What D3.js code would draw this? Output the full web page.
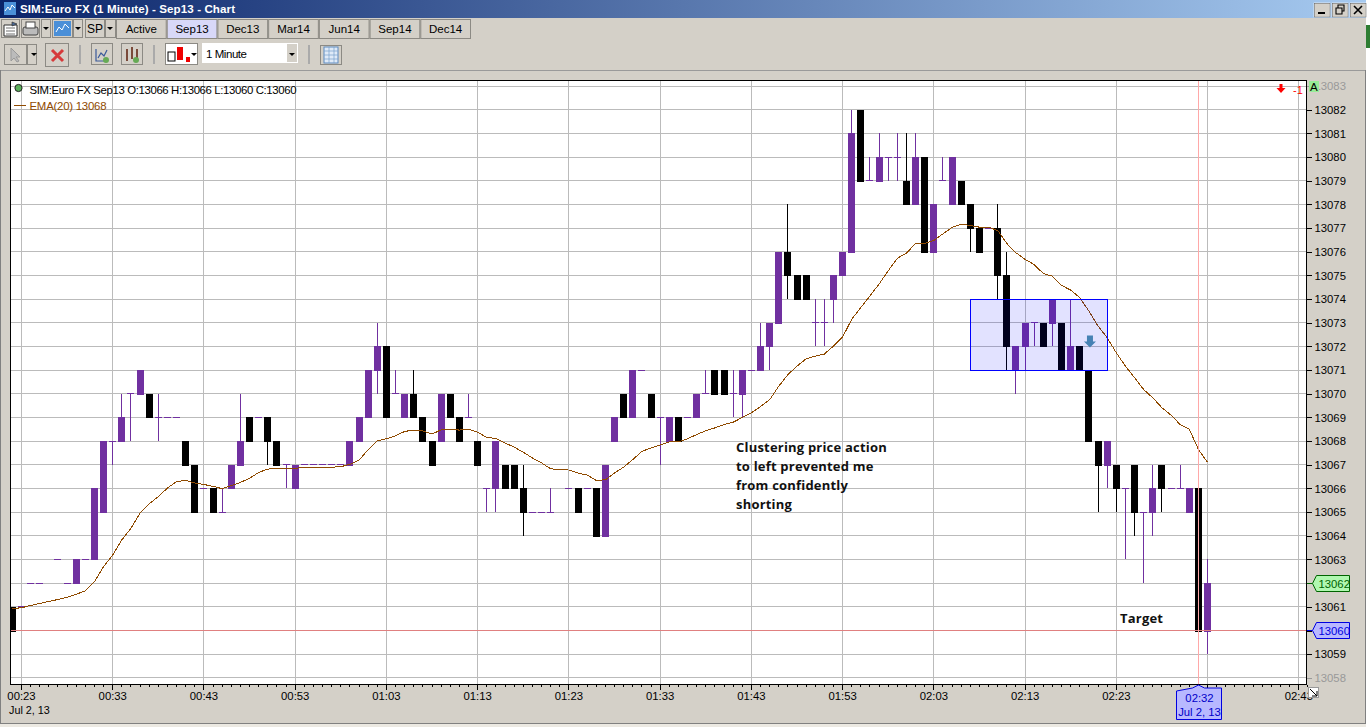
<!DOCTYPE html>
<html><head><meta charset="utf-8">
<style>
html,body{margin:0;padding:0;background:#fff;overflow:hidden}
svg{display:block}
text{font-family:"Liberation Sans",Arial,sans-serif;font-size:11.5px;fill:#000}
.ann{font-family:"Open Sans",sans-serif;font-weight:700;font-size:13px;letter-spacing:.2px;fill:#111}
</style>
<script src="https://cdn.jsdelivr.net/npm/d3@7"></script>
</head><body><div id="c"></div>
<script>
// minutes after midnight, 22 = 00:22
const barMinutes=[22,23,24,25,27,28,29,30,31,32,33,34,35,36,37,38,39,40,41,42,43,44,45,46,47,48,49,50,51,52,53,54,55,56,57,58,59,60,61,62,63,64,65,66,67,68,69,70,71,72,73,74,75,76,77,78,79,80,81,83,84,85,86,87,88,89,90,91,92,93,94,95,96,97,98,99,100,101,102,103,104,105,106,107,108,109,110,111,112,113,114,115,116,117,118,119,120,121,122,123,124,125,126,127,128,129,130,131,132,133,134,135,136,137,138,139,140,141,142,143,144,145,146,147,148,149,150,151,152,153];
const opens=[13061,13061,13062,13062,13063,13062,13062,13063,13063,13065,13068,13068,13070,13070,13070,13069,13069,13069,13068,13067,13066,13066,13065,13066,13067,13069,13069,13069,13068,13067,13066,13067,13067,13067,13067,13067,13067,13068,13069,13071,13072,13070,13069,13070,13069,13068,13068,13070,13069,13069,13068,13066,13066,13067,13067,13066,13065,13065,13065,13066,13066,13066,13066,13064,13068,13070,13069,13071,13070,13069,13068,13069,13069,13069,13070,13071,13071,13070,13070,13071,13071,13072,13073,13076,13075,13075,13073,13073,13074,13075,13076,13082,13079,13079,13080,13080,13079,13078,13080,13076,13079,13078,13079,13078,13077,13077,13077,13075,13071,13072,13073,13073,13073,13073,13071,13072,13071,13068,13067,13067,13066,13067,13065,13065,13067,13066,13066,13065,13066,13060];
const highs=[13061,13061,13062,13062,13063,13062,13063,13063,13066,13068,13068,13070,13070,13071,13070,13070,13069,13069,13068,13067,13066,13066,13066,13067,13070,13069,13069,13069,13068,13067,13067,13067,13067,13067,13067,13067,13068,13069,13071,13073,13072,13071,13070,13071,13069,13068,13070,13070,13069,13070,13068,13066,13068,13067,13067,13067,13065,13065,13066,13066,13066,13066,13066,13067,13069,13070,13071,13071,13070,13069,13069,13069,13069,13070,13071,13071,13071,13071,13071,13071,13073,13073,13076,13078,13075,13075,13074,13074,13075,13076,13082,13082,13080,13081,13080,13081,13081,13081,13080,13078,13080,13080,13079,13078,13077,13077,13078,13076,13072,13073,13073,13073,13074,13073,13074,13072,13071,13068,13068,13067,13066,13067,13065,13067,13067,13066,13067,13066,13066,13063];
const lows=[13060,13061,13062,13062,13063,13062,13062,13063,13063,13065,13067,13068,13068,13070,13069,13068,13069,13069,13067,13065,13066,13065,13065,13066,13067,13068,13069,13067,13067,13066,13066,13067,13067,13067,13067,13067,13067,13068,13069,13070,13069,13070,13069,13069,13068,13067,13068,13069,13068,13069,13067,13065,13065,13066,13066,13064,13065,13065,13065,13066,13065,13066,13064,13064,13068,13069,13069,13071,13069,13067,13068,13068,13069,13069,13070,13070,13070,13069,13069,13071,13071,13071,13073,13074,13074,13074,13072,13072,13073,13075,13076,13079,13079,13079,13079,13079,13078,13078,13076,13076,13079,13078,13078,13076,13076,13077,13074,13071,13070,13071,13072,13072,13072,13071,13071,13071,13068,13065,13066,13065,13063,13064,13062,13064,13065,13066,13066,13065,13060,13059];
const closes=[13060,13061,13062,13062,13063,13062,13063,13063,13066,13068,13068,13069,13070,13071,13069,13069,13069,13069,13067,13065,13066,13065,13065,13067,13068,13068,13069,13068,13067,13067,13067,13067,13067,13067,13067,13067,13068,13069,13071,13072,13069,13070,13070,13069,13068,13067,13070,13069,13068,13069,13067,13066,13068,13066,13066,13065,13065,13065,13065,13066,13065,13066,13064,13067,13069,13069,13071,13071,13069,13069,13069,13068,13069,13070,13070,13070,13070,13070,13071,13071,13072,13073,13076,13075,13074,13074,13073,13073,13075,13076,13081,13079,13079,13080,13080,13080,13078,13080,13076,13078,13079,13080,13078,13077,13076,13077,13075,13072,13072,13073,13073,13072,13074,13071,13072,13071,13068,13067,13068,13066,13066,13065,13065,13066,13066,13066,13066,13066,13060,13062];
// EMA(20), one value per minute from 00:22
const emaStart=22;
const emaValues=[13060.93,13060.96,13061.06,13061.14,13061.23,13061.31,13061.4,13061.53,13061.68,13062.06,13062.7,13063.19,13063.83,13064.32,13064.96,13065.35,13065.66,13066.02,13066.29,13066.34,13066.23,13066.17,13066.09,13065.99,13066.12,13066.26,13066.43,13066.68,13066.82,13066.84,13066.85,13066.86,13066.88,13066.89,13066.89,13066.9,13066.92,13067.02,13067.2,13067.64,13068.02,13068.1,13068.23,13068.41,13068.47,13068.43,13068.3,13068.48,13068.48,13068.47,13068.51,13068.38,13068.15,13068.12,13067.92,13067.75,13067.53,13067.29,13067.08,13066.83,13066.8,13066.78,13066.65,13066.57,13066.34,13066.37,13066.66,13066.9,13067.22,13067.57,13067.71,13067.84,13067.97,13067.97,13068.1,13068.28,13068.44,13068.56,13068.7,13068.8,13069.0,13069.2,13069.46,13069.75,13070.32,13070.81,13071.17,13071.48,13071.59,13071.68,13072.02,13072.4,13073.15,13073.65,13074.14,13074.64,13075.2,13075.73,13075.95,13076.35,13076.35,13076.48,13076.76,13077.03,13077.17,13077.11,13077.04,13077.04,13076.9,13076.35,13075.96,13075.68,13075.46,13075.08,13074.97,13074.58,13074.38,13074.06,13073.49,13072.86,13072.37,13071.73,13071.17,13070.68,13070.18,13069.83,13069.41,13069.1,13068.7,13068.5,13067.65,13067.1];
const priceTicks=[13083,13082,13081,13080,13079,13078,13077,13076,13075,13074,13073,13072,13071,13070,13069,13068,13067,13066,13065,13064,13063,13062,13061,13060,13059,13058];
const timeTicks=[23,33,43,53,63,73,83,93,103,113,123,133,143,153,163];
const timeLabels=["00:23","00:33","00:43","00:53","01:03","01:13","01:23","01:33","01:43","01:53","02:03","02:13","02:23","","02:43"];
const tabs=["Active","Sep13","Dec13","Mar14","Jun14","Sep14","Dec14"];
const notes=["Clustering price action","to left prevented me","from confidently","shorting"];
const lastClose=13060, trigger=13062, cursorMinute=152;
const zone={t0:127,t1:142,p0:13071,p1:13074}, signalMinute=140;

const W=1370,H=727,L=10.5,R=1306.5,T=80.5,B=684.5;
const x=d3.scaleLinear().domain([23,163]).range([21.5,1298.8]);
const y=d3.scaleLinear().domain([13060,13082]).range([630.5,109.8]);
const svg=d3.select("#c").append("svg").attr("width",W).attr("height",H);
const GR="#d4d0c8",GRID="#bbbbbb",PUR="#7030a0",EMA="#8f4a00";
const px=v=>Math.round(v-.5)+.5;

// window
svg.append("rect").attr("width",W).attr("height",H).attr("fill",GR);
const defs=svg.append("defs");
const lg=defs.append("linearGradient").attr("id","tb");
lg.append("stop").attr("offset",0).attr("stop-color","#0a246a");
lg.append("stop").attr("offset",1).attr("stop-color","#a6caf0");
defs.append("clipPath").attr("id","pc").append("rect").attr("x",L).attr("y",T).attr("width",R-L).attr("height",B-T);
svg.append("rect").attr("width",1366).attr("height",18).attr("fill","url(#tb)");
svg.append("rect").attr("x",1366).attr("width",4).attr("height",H).attr("fill","#fff");
svg.append("rect").attr("x",1366).attr("y",25).attr("width",4).attr("height",23).attr("fill","#2e7d32");
svg.append("rect").attr("x",1365).attr("y",70).attr("width",1).attr("height",653).attr("fill","#808080");
svg.append("rect").attr("x",0).attr("y",70).attr("width",1365).attr("height",1).attr("fill","#9a9a9a");
svg.append("rect").attr("x",0).attr("y",70).attr("width",1).attr("height",654).attr("fill","#808080");
svg.append("rect").attr("x",0).attr("y",723).attr("width",1366).attr("height",1).attr("fill","#808080");
svg.append("rect").attr("x",0).attr("y",724).attr("width",1366).attr("height",3).attr("fill","#ece9e2");
svg.append("text").attr("x",20).attr("y",13).style("fill","#fff").style("font-weight",700).style("font-size","11.6px").attr("textLength",215).text("SIM:Euro FX (1 Minute) - Sep13 - Chart");
// title icon
svg.append("rect").attr("x",4).attr("y",2).attr("width",12).attr("height",13).attr("fill","#4a90d8");
svg.append("path").attr("d","M5 11l3-4 2 3 2-5 3 3").attr("fill","none").attr("stroke","#fff");

function btn(x0,y0,w,h,fill){
  const g=svg.append("g");
  g.append("rect").attr("x",x0+.5).attr("y",y0+.5).attr("width",w-1).attr("height",h-1).attr("fill",fill||GR).attr("stroke","#8c8a84");
  return g;
}
// window buttons
[[1314,"min"],[1332,"max"],[1350,"x"]].forEach(([bx,k])=>{
  const g=svg.append("g");
  g.append("rect").attr("x",bx).attr("y",3).attr("width",16).attr("height",14).attr("fill",GR).attr("stroke","#fff").attr("stroke-width",.6);
  g.append("rect").attr("x",bx+.5).attr("y",3.5).attr("width",15.5).attr("height",13.5).attr("fill","none").attr("stroke","#555").attr("stroke-width",.5);
  const d=k=="min"?`M${bx+4} 13h7`:k=="max"?`M${bx+4} 8h6v6h-6zM${bx+6} 8v-3h6v6h-2`:`M${bx+4} 6l8 8M${bx+12} 6l-8 8`;
  g.append("path").attr("d",d).attr("fill","none").attr("stroke","#000").attr("stroke-width",k=="min"?2:k=="x"?1.6:1.1);
});
// toolbar row 1
btn(1,19,19,19);
svg.append("path").attr("d","M4 25h13v11h-13z").attr("fill","#fff").attr("stroke","#333");
svg.append("path").attr("d","M6 28h9M6 31h9M6 34h9M12 22l5 2-5 2z").attr("fill","#4a6a9a").attr("stroke","#333").attr("stroke-width",.7);
btn(21,19,19,19);
svg.append("rect").attr("x",23).attr("y",27).attr("width",15).attr("height",8).attr("rx",2).attr("fill","#bbb").attr("stroke","#444");
svg.append("rect").attr("x",26).attr("y",22).attr("width",9).attr("height",6).attr("fill","#fff").attr("stroke","#444");
btn(41,19,10,19); btn(52,19,21,19); btn(73,19,10,19); btn(85,19,20,19); btn(105,19,11,19);
svg.append("rect").attr("x",54).attr("y",21).attr("width",17).attr("height",15).attr("fill","#4a8fd8");
svg.append("path").attr("d","M56 32l3-5 3 3 3-6 4 4").attr("fill","none").attr("stroke","#fff");
[[46,28],[78,28],[110,28]].forEach(([a,b])=>svg.append("path").attr("d",`M${a-3} ${b-1}h6l-3 3z`).attr("fill","#000"));
svg.append("text").attr("x",95).attr("y",33).attr("text-anchor","middle").style("font-size","12px").text("SP");
const tabX=d3.scaleLinear().domain([0,7]).range([116,471]);
tabs.forEach((t,i)=>{
  btn(tabX(i),19,tabX(i+1)-tabX(i),20,i==1?"#d8d8f8":GR);
  svg.append("text").attr("x",(tabX(i)+tabX(i+1))/2).attr("y",33).attr("text-anchor","middle").text(t);
});
// toolbar row 2
btn(4,44,23,21); btn(27,44,10,21); btn(45,43,24,24); btn(91,43,22,22); btn(121,43,22,22); btn(165,43,33,22,"#fff"); btn(320,45,22,20);
svg.append("path").attr("d","M11 48v13l3-3 3 4 2-1-3-4h4z").attr("fill","#bbb").attr("stroke","#999");
svg.append("path").attr("d","M31 53h6l-3 3z").attr("fill","#000");
svg.append("path").attr("d","M52 50l11 11M63 50l-11 11").attr("stroke","#d63a3a").attr("stroke-width",3);
svg.append("path").attr("d","M96 49v12h12M98 58l3-5 3 3 3-6").attr("fill","none").attr("stroke","#3a5a9a").attr("stroke-width",1.2);
svg.append("circle").attr("cx",106).attr("cy",60).attr("r",3).attr("fill","#66aa55");
svg.append("path").attr("d","M127 49v12M132 47v12M137 49v12").attr("stroke","#7a4a3a").attr("stroke-width",2);
svg.append("circle").attr("cx",136).attr("cy",60).attr("r",3).attr("fill","#66aa55");
svg.append("rect").attr("x",168).attr("y",52).attr("width",7).attr("height",9).attr("fill","#fff").attr("stroke","#000");
svg.append("rect").attr("x",177).attr("y",47).attr("width",6).attr("height",13).attr("fill","#e00");
svg.append("rect").attr("x",186).attr("y",57).attr("width",4).attr("height",5).attr("fill","#e00");
svg.append("path").attr("d","M191 53h6l-3 3z").attr("fill","#000");
svg.append("rect").attr("x",202).attr("y",43).attr("width",96).attr("height",20).attr("fill","#fff");
svg.append("rect").attr("x",287).attr("y",44).attr("width",10).attr("height",18).attr("fill",GR);
svg.append("path").attr("d","M289 53h6l-3 3z").attr("fill","#000");
svg.append("text").attr("x",206).attr("y",58).style("font-size","11.5px").attr("textLength",41).text("1 Minute");
svg.append("rect").attr("x",324).attr("y",47).attr("width",14).attr("height",16).attr("fill","#dfeaf8").attr("stroke","#5c8ac0");
svg.append("path").attr("d","M324 51h14M324 55h14M324 59h14M329 47v16M334 47v16").attr("stroke","#7aa0cc").attr("stroke-width",.7);
[80,154,309].forEach(v=>svg.append("rect").attr("x",v-1).attr("y",45).attr("width",2).attr("height",19).attr("fill","#aaa"));

// plot
svg.append("rect").attr("x",L).attr("y",T).attr("width",R-L).attr("height",B-T).attr("fill","#fff");
const plot=svg.append("g").attr("clip-path","url(#pc)").attr("shape-rendering","crispEdges");
plot.append("g").selectAll("line").data(priceTicks).join("line")
  .attr("x1",L).attr("x2",R).attr("y1",d=>px(y(d))).attr("y2",d=>px(y(d))).attr("stroke",GRID);
plot.append("g").selectAll("line").data(timeTicks).join("line")
  .attr("y1",T).attr("y2",B).attr("x1",d=>px(x(d))).attr("x2",d=>px(x(d))).attr("stroke",GRID);

const bars=barMinutes.map((m,i)=>({m,o:opens[i],h:highs[i],l:lows[i],c:closes[i]}));
const col=d=>d.c<d.o?"#000":PUR;
const cg=plot.append("g");
cg.selectAll("line.w").data(bars).join("line").attr("class","w")
  .attr("x1",d=>px(x(d.m))).attr("x2",d=>px(x(d.m))).attr("y1",d=>y(d.h)).attr("y2",d=>y(d.l)).attr("stroke",col);
cg.selectAll("rect.b").data(bars.filter(d=>d.o!=d.c)).join("rect").attr("class","b")
  .attr("x",d=>Math.round(x(d.m)-3.5)).attr("width",7)
  .attr("y",d=>Math.round(y(Math.max(d.o,d.c)))).attr("height",d=>Math.abs(Math.round(y(d.o))-Math.round(y(d.c)))+1).attr("fill",col);
cg.selectAll("line.d").data(bars.filter(d=>d.o==d.c)).join("line").attr("class","d")
  .attr("x1",d=>Math.round(x(d.m)-3.5)).attr("x2",d=>Math.round(x(d.m)+3.5)).attr("y1",d=>px(y(d.o))).attr("y2",d=>px(y(d.o))).attr("stroke",PUR);

// EMA
const emaLine=d3.line().x((d,i)=>x(emaStart+i)).y(d=>y(d));
svg.append("path").attr("clip-path","url(#pc)").attr("d",emaLine(emaValues)).attr("fill","none").attr("stroke",EMA).attr("stroke-width",1).attr("shape-rendering","crispEdges");

// zone
svg.append("rect").attr("shape-rendering","crispEdges").attr("x",px(x(zone.t0))).attr("y",px(y(zone.p1)))
  .attr("width",px(x(zone.t1))-px(x(zone.t0))).attr("height",px(y(zone.p0))-px(y(zone.p1)))
  .attr("fill","#0000ff").attr("fill-opacity",.115).attr("stroke","#0000ff");
const ax=x(signalMinute)+1,ay=y(13072);
svg.append("path").attr("d",`M${ax-3} ${ay-11}h6v6h3l-6 6l-6-6h3z`).attr("fill","#4682b4");

// price lines
svg.append("line").attr("shape-rendering","crispEdges").attr("x1",L).attr("x2",R).attr("y1",px(y(lastClose))).attr("y2",px(y(lastClose))).attr("stroke","#e08080");
svg.append("line").attr("shape-rendering","crispEdges").attr("y1",T).attr("y2",B).attr("x1",px(x(cursorMinute))).attr("x2",px(x(cursorMinute))).attr("stroke","#ffa8a8");

// frame
svg.append("rect").attr("shape-rendering","crispEdges").attr("x",L).attr("y",T).attr("width",R-L).attr("height",B-T).attr("fill","none").attr("stroke","#000");

// price axis (the last-price and trigger values are carried by their tags)
const ya=svg.append("g").attr("transform",`translate(${R},0)`).call(d3.axisRight(y).tickValues(priceTicks).tickSize(5).tickFormat(d=>(d==lastClose||d==trigger)?"":d3.format("d")(d)));
ya.select(".domain").remove();
ya.selectAll("text").attr("x",8).style("font-family",'"Liberation Sans",Arial,sans-serif').style("font-size","11.3px").style("fill",d=>(d==13083||d==13058)?"#999":"#000");
ya.selectAll("line").attr("shape-rendering","crispEdges").attr("stroke",d=>(d==13083||d==13058)?"#999":"#000");
ya.selectAll("text").filter(d=>d==lastClose||d==trigger).remove();
// time axis
const minor=d3.range(23,165);
svg.append("g").attr("shape-rendering","crispEdges").selectAll("line").data(minor).join("line")
  .attr("x1",d=>px(x(d))).attr("x2",d=>px(x(d))).attr("y1",B).attr("y2",d=>timeTicks.includes(d)?B+5:B+2.5).attr("stroke","#000");
svg.append("g").selectAll("text").data(timeTicks.filter((d,i)=>timeLabels[i])).join("text")
  .attr("x",d=>x(d)).attr("y",700).attr("text-anchor","middle").style("font-size","11.3px").text(d=>timeLabels[timeTicks.indexOf(d)]);
svg.append("text").attr("x",9).attr("y",714).style("font-size","10.8px").text("Jul 2, 13");

// corner icon
svg.append("rect").attr("x",1308.5).attr("y",687.5).attr("width",10).attr("height",10).attr("fill","#fff").attr("stroke","#999");
svg.append("path").attr("d","M1310 689l7 7M1317 691v5h-5").attr("fill","none").attr("stroke","#000");

// A marker
svg.append("rect").attr("x",1309).attr("y",81).attr("width",10).attr("height",11).attr("fill","#98ec98");
svg.append("text").attr("x",1310).attr("y",91).style("font-size","11.5px").text("A");

// tags
function tag(p,fill,stroke,textc){
  const yy=px(y(p)),xa=1312.5,xb=1349.5;
  svg.append("line").attr("shape-rendering","crispEdges").attr("x1",R).attr("x2",xa).attr("y1",yy).attr("y2",yy).attr("stroke",stroke);
  svg.append("path").attr("d",`M${xa} ${yy}L${xa+4} ${yy-8}H${xb}V${yy+8}H${xa+4}Z`).attr("fill",fill).attr("stroke",stroke);
  svg.append("text").attr("x",xa+6).attr("y",yy+4).style("font-size","11.3px").style("fill",textc).text(d3.format("d")(p));
}
tag(trigger,"#b0f8b0","#006400","#006400");
tag(lastClose,"#b8b8ff","#0000e0","#0000e0");
// cursor time tag
const cx0=px(x(cursorMinute));
svg.append("path").attr("d",`M${cx0} 685L${cx0+6} 688H1221.5V719.5H1176.5V691L${cx0-6} 688Z`).attr("fill","#b8b8ff").attr("stroke","#0000e0");
svg.append("text").attr("x",cx0+1).attr("y",702).attr("text-anchor","middle").style("font-size","11.3px").style("fill","#0000c8").text("02:32");
svg.append("text").attr("x",cx0+1).attr("y",716).attr("text-anchor","middle").style("font-size","11.3px").style("fill","#0000c8").text("Jul 2, 13");

// legend
svg.append("circle").attr("cx",18.5).attr("cy",88).attr("r",3.6).attr("fill","#5ab05a").attr("stroke","#222");
svg.append("text").attr("x",29.5).attr("y",94).style("font-size","11.4px").attr("textLength",267).text("SIM:Euro FX Sep13 O:13066 H:13066 L:13060 C:13060");
svg.append("line").attr("x1",14).attr("x2",26).attr("y1",105.5).attr("y2",105.5).attr("stroke",EMA);
svg.append("text").attr("x",29.5).attr("y",110).style("font-size","11.4px").style("fill",EMA).attr("textLength",77).text("EMA(20)  13068");
// position
svg.append("path").attr("d","M1279.5 84h3v4h3l-4.5 5l-4.5-5h3z").attr("fill","#f00");
svg.append("text").attr("x",1293).attr("y",94).style("font-size","11px").style("fill","#f00").text("-1");

// notes
const ny=[451.5,470.5,489.5,509];
svg.append("g").selectAll("text").data(notes).join("text").attr("class","ann")
  .attr("x",736).attr("y",(d,i)=>ny[i]).text(d=>d);
svg.append("text").attr("class","ann").attr("x",1120).attr("y",623).text("Target");
</script></body></html>
